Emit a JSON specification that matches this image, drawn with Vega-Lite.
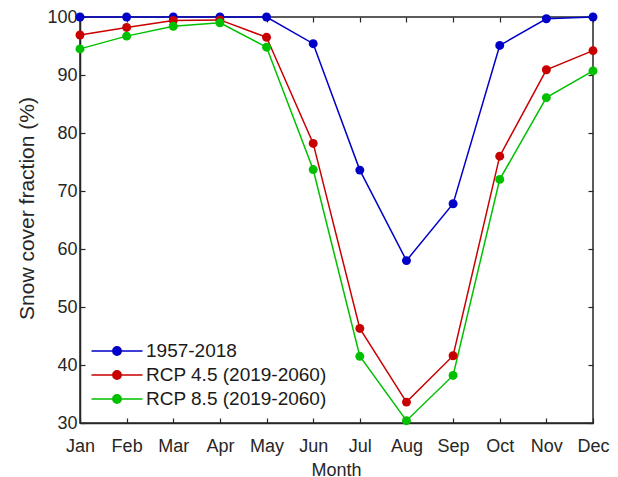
{
  "$schema": "https://vega.github.io/schema/vega-lite/v6.json",
  "autosize": "none",
  "padding": {"left": 80, "top": 17, "right": 25, "bottom": 54},
  "width": 513,
  "height": 406,
  "background": "white",
  "config": {
    "view": {"stroke": "#262626", "strokeWidth": 1.5},
    "font": "Liberation Sans",
    "axis": {"labelFont": "Liberation Sans", "titleFont": "Liberation Sans", "labelColor": "#262626", "titleColor": "#262626", "titleFontWeight": "normal", "domainColor": "#262626", "tickColor": "#262626", "grid": false}
  },
  "data": {"values": [
    {"month": "Jan", "series": "1957-2018", "value": 100},
    {"month": "Feb", "series": "1957-2018", "value": 100},
    {"month": "Mar", "series": "1957-2018", "value": 100},
    {"month": "Apr", "series": "1957-2018", "value": 100},
    {"month": "May", "series": "1957-2018", "value": 100},
    {"month": "Jun", "series": "1957-2018", "value": 95.4},
    {"month": "Jul", "series": "1957-2018", "value": 73.6},
    {"month": "Aug", "series": "1957-2018", "value": 58.0},
    {"month": "Sep", "series": "1957-2018", "value": 67.8},
    {"month": "Oct", "series": "1957-2018", "value": 95.1},
    {"month": "Nov", "series": "1957-2018", "value": 99.7},
    {"month": "Dec", "series": "1957-2018", "value": 100},
    {"month": "Jan", "series": "RCP 4.5 (2019-2060)", "value": 96.9},
    {"month": "Feb", "series": "RCP 4.5 (2019-2060)", "value": 98.2},
    {"month": "Mar", "series": "RCP 4.5 (2019-2060)", "value": 99.4},
    {"month": "Apr", "series": "RCP 4.5 (2019-2060)", "value": 99.5},
    {"month": "May", "series": "RCP 4.5 (2019-2060)", "value": 96.5},
    {"month": "Jun", "series": "RCP 4.5 (2019-2060)", "value": 78.2},
    {"month": "Jul", "series": "RCP 4.5 (2019-2060)", "value": 46.3},
    {"month": "Aug", "series": "RCP 4.5 (2019-2060)", "value": 33.6},
    {"month": "Sep", "series": "RCP 4.5 (2019-2060)", "value": 41.6},
    {"month": "Oct", "series": "RCP 4.5 (2019-2060)", "value": 76.0},
    {"month": "Nov", "series": "RCP 4.5 (2019-2060)", "value": 90.9},
    {"month": "Dec", "series": "RCP 4.5 (2019-2060)", "value": 94.2},
    {"month": "Jan", "series": "RCP 8.5 (2019-2060)", "value": 94.5},
    {"month": "Feb", "series": "RCP 8.5 (2019-2060)", "value": 96.7},
    {"month": "Mar", "series": "RCP 8.5 (2019-2060)", "value": 98.4},
    {"month": "Apr", "series": "RCP 8.5 (2019-2060)", "value": 99.0},
    {"month": "May", "series": "RCP 8.5 (2019-2060)", "value": 94.8},
    {"month": "Jun", "series": "RCP 8.5 (2019-2060)", "value": 73.7},
    {"month": "Jul", "series": "RCP 8.5 (2019-2060)", "value": 41.5},
    {"month": "Aug", "series": "RCP 8.5 (2019-2060)", "value": 30.4},
    {"month": "Sep", "series": "RCP 8.5 (2019-2060)", "value": 38.2},
    {"month": "Oct", "series": "RCP 8.5 (2019-2060)", "value": 72.0},
    {"month": "Nov", "series": "RCP 8.5 (2019-2060)", "value": 86.1},
    {"month": "Dec", "series": "RCP 8.5 (2019-2060)", "value": 90.7}
  ]},
  "encoding": {
    "x": {"field": "month", "type": "ordinal", "sort": ["Jan","Feb","Mar","Apr","May","Jun","Jul","Aug","Sep","Oct","Nov","Dec"], "scale": {"type": "point", "padding": 0}, "axis": null},
    "y": {"field": "value", "type": "quantitative", "scale": {"domain": [30, 100], "nice": false, "zero": false}, "axis": null},
    "color": {"field": "series", "type": "nominal", "scale": {"domain": ["1957-2018", "RCP 4.5 (2019-2060)", "RCP 8.5 (2019-2060)"], "range": ["#0000C8", "#C80000", "#00C000"]}, "legend": null}
  },
  "layer": [
    {
      "mark": {"type": "line", "strokeWidth": 1.5, "clip": false},
      "encoding": {
        "x": {"field": "month", "type": "ordinal", "sort": ["Jan","Feb","Mar","Apr","May","Jun","Jul","Aug","Sep","Oct","Nov","Dec"], "scale": {"type": "point", "padding": 0},
          "axis": {"orient": "bottom", "title": "Month", "labelAngle": 0, "labelFontSize": 18, "titleFontSize": 18, "tickSize": -5, "labelPadding": 19, "titleX": 256, "titleY": 47, "titleBaseline": "middle", "titleAlign": "center", "domainWidth": 1.5, "tickWidth": 1.2}},
        "y": {"field": "value", "type": "quantitative", "scale": {"domain": [30, 100], "nice": false, "zero": false},
          "axis": {"orient": "left", "title": "Snow cover fraction (%)", "values": [30,40,50,60,70,80,90,100], "labelFontSize": 18, "titleFontSize": 21, "tickSize": -5, "labelPadding": 8, "titleX": -53, "titleY": 191, "titleAngle": -90, "titleBaseline": "middle", "titleAlign": "center", "domainWidth": 1.5, "tickWidth": 1.2}},
        "color": {"field": "series", "type": "nominal", "scale": {"domain": ["1957-2018", "RCP 4.5 (2019-2060)", "RCP 8.5 (2019-2060)"], "range": ["#0000C8", "#C80000", "#00C000"]},
          "legend": {"orient": "none", "legendX": 26, "legendY": 323, "title": null, "padding": 0, "symbolType": "M-2.55,0H2.55M0.42,0A0.42,0.42 0 1,1 -0.42,0A0.42,0.42 0 1,1 0.42,0", "symbolSize": 400, "symbolStrokeWidth": 1.5, "labelOffset": 18, "labelFontSize": 19, "labelLimit": 0, "labelColor": "#1a1a1a", "rowPadding": 3, "labelFont": "Liberation Sans"}}
      }
    },
    {
      "mark": {"type": "point", "filled": true, "size": 80, "opacity": 1, "clip": false}
    },
    {
      "mark": {"type": "point", "opacity": 0},
      "encoding": {
        "x": {"field": "month", "type": "ordinal", "sort": ["Jan","Feb","Mar","Apr","May","Jun","Jul","Aug","Sep","Oct","Nov","Dec"], "scale": {"type": "point", "padding": 0},
          "axis": {"orient": "top", "title": null, "labels": false, "domain": false, "tickSize": -5, "tickWidth": 1.2}},
        "y": {"field": "value", "type": "quantitative", "scale": {"domain": [30, 100], "nice": false, "zero": false},
          "axis": {"orient": "right", "title": null, "labels": false, "domain": false, "values": [30,40,50,60,70,80,90,100], "tickSize": -5, "tickWidth": 1.2}},
        "color": {"value": "white"}
      }
    }
  ],
  "resolve": {"axis": {"x": "independent", "y": "independent"}}
}
